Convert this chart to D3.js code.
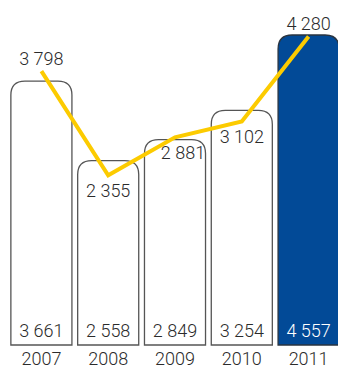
<!DOCTYPE html>
<html>
<head>
<meta charset="utf-8">
<script src="https://cdn.jsdelivr.net/npm/d3@7/dist/d3.min.js"></script>
<style>
  html, body { margin: 0; padding: 0; background: #fff; }
  svg { display: block; }
  text { font-family: Roboto, "Noto Sans", sans-serif; font-size: 18px; font-weight: 300; fill: #2b2b2b; }
</style>
</head>
<body>
<svg id="chart" width="338" height="369"></svg>
<script>
// Years shown along the bottom
const years = ["2007", "2008", "2009", "2010", "2011"];
// Bar series (value written at the foot of each bar)
const barValues = [3661, 2558, 2849, 3254, 4557];
// Line series (value written next to each vertex)
const lineValues = [3798, 2355, 2881, 3102, 4280];
// Where each line label sits relative to its vertex
const lineLabelSide = ["above", "below", "below-right", "below", "above"];

const baseY = 345;
const svg = d3.select("#chart");

const x = d3.scaleBand()
  .domain(years)
  .range([8, 342])
  .paddingInner(0.086)
  .paddingOuter(0.043);

// Shared value scale; the tallest bar is capped at the top of the plot
const y = d3.scaleLinear()
  .domain([0, 4300])
  .range([baseY, 35])
  .clamp(true);

const fmt = v => d3.format(",")(v).replace(/,/g, " ");

const r = 14;
function barPath(x0, w, top, bottom) {
  return `M${x0},${bottom}V${top + r}Q${x0},${top} ${x0 + r},${top}` +
    `H${x0 + w - r}Q${x0 + w},${top} ${x0 + w},${top + r}V${bottom}Z`;
}

const last = years[years.length - 1];

svg.selectAll("path.bar")
  .data(years)
  .join("path")
  .attr("class", "bar")
  .attr("d", (d, i) => barPath(x(d), x.bandwidth(), y(barValues[i]), baseY))
  .attr("fill", d => d === last ? "#024a97" : "#fff")
  .attr("stroke", d => d === last ? "#2a3440" : "#555")
  .attr("stroke-width", 1.3);

// Values at the foot of the bars
svg.selectAll("text.bv")
  .data(years)
  .join("text")
  .attr("class", "bv")
  .attr("x", d => x(d) + x.bandwidth() / 2)
  .attr("y", baseY - 8)
  .attr("text-anchor", "middle")
  .style("fill", d => d === last ? "#fff" : null)
  .text((d, i) => fmt(barValues[i]));

// Year labels
svg.selectAll("text.yr")
  .data(years)
  .join("text")
  .attr("class", "yr")
  .attr("x", d => x(d) + x.bandwidth() / 2)
  .attr("y", 365)
  .attr("text-anchor", "middle")
  .text(d => d);

// Yellow line
const line = d3.line()
  .x((v, i) => x(years[i]) + x.bandwidth() / 2)
  .y(v => y(v));

svg.append("path")
  .datum(lineValues)
  .attr("d", line)
  .attr("fill", "none")
  .attr("stroke", "#fccb00")
  .attr("stroke-width", 4)
  .attr("stroke-linejoin", "miter");

svg.selectAll("text.lv")
  .data(lineValues)
  .join("text")
  .attr("class", "lv")
  .attr("x", (v, i) => x(years[i]) + x.bandwidth() / 2 + (lineLabelSide[i] === "below-right" ? 8 : 0))
  .attr("y", (v, i) => lineLabelSide[i] === "above" ? y(v) - 6 : y(v) + 22)
  .attr("text-anchor", "middle")
  .text(v => fmt(v));
</script>
</body>
</html>
